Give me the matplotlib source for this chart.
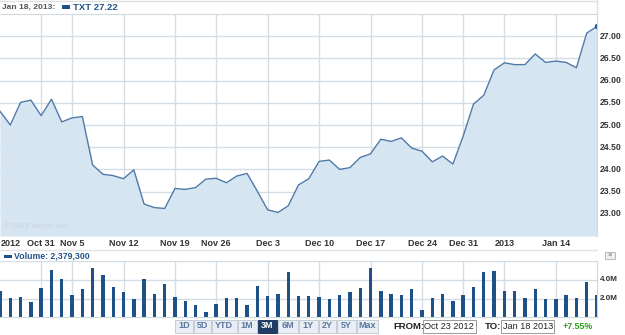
import matplotlib
matplotlib.use("Agg")
import matplotlib.pyplot as plt
from matplotlib.patches import Rectangle
from matplotlib.lines import Line2D

plt.rcParams['font.family'] = ['Liberation Sans', 'DejaVu Sans']

W, H = 625, 335

# trading days Oct 23 2012 -> Jan 18 2013 (market shut Oct 29/30)
days = ["Oct 23", "Oct 24", "Oct 25", "Oct 26", "Oct 31", "Nov 1", "Nov 2",
        "Nov 5", "Nov 6", "Nov 7", "Nov 8", "Nov 9",
        "Nov 12", "Nov 13", "Nov 14", "Nov 15", "Nov 16",
        "Nov 19", "Nov 20", "Nov 21", "Nov 23",
        "Nov 26", "Nov 27", "Nov 28", "Nov 29", "Nov 30",
        "Dec 3", "Dec 4", "Dec 5", "Dec 6", "Dec 7",
        "Dec 10", "Dec 11", "Dec 12", "Dec 13", "Dec 14",
        "Dec 17", "Dec 18", "Dec 19", "Dec 20", "Dec 21",
        "Dec 24", "Dec 26", "Dec 27", "Dec 28", "Dec 31",
        "Jan 2", "Jan 3", "Jan 4",
        "Jan 7", "Jan 8", "Jan 9", "Jan 10", "Jan 11",
        "Jan 14", "Jan 15", "Jan 16", "Jan 17", "Jan 18"]

close = [25.31, 25.00, 25.51, 25.56, 25.21, 25.58, 25.07, 25.16, 25.19, 24.10,
         23.89, 23.86, 23.79, 23.99, 23.22, 23.14, 23.12, 23.57, 23.55, 23.59,
         23.78, 23.80, 23.70, 23.85, 23.91, 23.51, 23.09, 23.03, 23.18, 23.65,
         23.79, 24.18, 24.21, 24.00, 24.04, 24.27, 24.35, 24.68, 24.63, 24.71,
         24.48, 24.41, 24.17, 24.30, 24.12, 24.75, 25.47, 25.67, 26.24, 26.40,
         26.36, 26.36, 26.60, 26.41, 26.44, 26.41, 26.29, 27.07, 27.22]

# volume in millions
volume = [2.86, 2.04, 2.18, 1.68, 3.11, 5.07, 4.07, 2.36, 3.04, 5.32,
          4.54, 3.21, 2.71, 1.96, 4.07, 2.54, 3.54, 2.18, 1.75, 1.32,
          0.57, 1.43, 2.04, 2.04, 1.32, 3.36, 2.29, 2.46, 4.89, 2.29,
          2.29, 2.18, 1.93, 2.36, 2.68, 3.11, 5.25, 2.86, 2.50, 2.36,
          3.04, 0.75, 2.04, 2.46, 1.75, 2.36, 3.29, 4.89, 5.00, 2.86,
          2.79, 2.11, 3.00, 2.00, 2.00, 2.43, 2.11, 3.80, 2.38]

tick_days = ["Oct 31", "Nov 5", "Nov 12", "Nov 19", "Nov 26", "Dec 3",
             "Dec 10", "Dec 17", "Dec 24", "Dec 31", "Jan 7", "Jan 14"]
tick_labels = ["Oct 31", "Nov 5", "Nov 12", "Nov 19", "Nov 26", "Dec 3",
               "Dec 10", "Dec 17", "Dec 24", "Dec 31", "2013", "Jan 14"]
price_ticks = [23.0, 23.5, 24.0, 24.5, 25.0, 25.5, 26.0, 26.5, 27.0]
vol_ticks = [2.0, 4.0]

line_c = "#4f7aa8"
fill_c = "#d5e5f1"
bar_c = "#1d5188"
grid_c = "#d3dde6"
text_c = "#333333"

x = list(range(len(days)))
tick_pos = [days.index(d) for d in tick_days]


def fx(px):
    return px / W


def fy(py):
    return 1 - py / H


fig = plt.figure(figsize=(W / 100, H / 100), dpi=100)

# price panel
ax = fig.add_axes([0, fy(236), fx(597), (236 - 14) / H])
ax.fill_between(x, close, 22.5, color=fill_c, lw=0)
ax.plot(x, close, color=line_c, lw=1.0)
ax.plot(x[-1], close[-1], "o", color="#2a5a90", ms=3)
ax.set_xlim(0, len(days) - 1)
ax.set_ylim(22.5, 27.5)
for p in tick_pos:
    ax.axvline(p, color=grid_c, lw=1.0, zorder=0)
for t in price_ticks:
    ax.axhline(t, color=grid_c, lw=1.0, zorder=0)
ax.set_xticks([])
ax.set_yticks([])
for s in ["left", "bottom"]:
    ax.spines[s].set_visible(False)
ax.spines["top"].set_color("#d0d8e0")
ax.spines["right"].set_color("#d0d8e0")
for t in price_ticks:
    ax.text(1.005, (t - 22.5) / 5.0, "%.2f" % t, transform=ax.transAxes,
            ha="left", va="center", fontsize=6.2, fontweight="bold", color=text_c)
ax.text(0.006, 0.035, "\u00a9 2013 Yahoo! Inc.", transform=ax.transAxes,
        fontsize=5.5, color="#c8d4de")

# x labels
fig.text(fx(0.5), fy(243), "2012", ha="left", va="center", fontsize=6.5,
         fontweight="bold", color=text_c)
for p, lab in zip(tick_pos, tick_labels):
    xp = p / (len(days) - 1) * 597
    fig.text(fx(xp), fy(243), lab, ha="center", va="center", fontsize=6.5,
             fontweight="bold", color=text_c)

# header
fig.add_artist(Line2D([0, fx(597)], [fy(1), fy(1)], color="#e0e0e0", lw=1))
fig.add_artist(Line2D([fx(597), fx(597)], [fy(0), fy(14)], color="#e0e0e0", lw=1))
fig.text(fx(2), fy(7.5), "Jan 18, 2013:", ha="left", va="center", fontsize=6.1,
         fontweight="bold", color="#555555")
fig.add_artist(Rectangle((fx(62), fy(8.5)), fx(8), 3.5 / H, transform=fig.transFigure,
                         color=bar_c, lw=0))
fig.text(fx(73), fy(7.5), "TXT 27.22", ha="left", va="center", fontsize=6.8,
         fontweight="bold", color="#24548a")

# separator
fig.add_artist(Line2D([0, fx(597)], [fy(249.5), fy(249.5)], color="#e3e3e3", lw=1))

# volume panel
vax = fig.add_axes([0, fy(317.3), fx(597), 56 / H])
vax.bar(x, volume, width=0.33, color=bar_c, zorder=2)
vax.set_xlim(0, len(days) - 1)
vax.set_ylim(0, 6.0)
for p in tick_pos:
    vax.axvline(p, color=grid_c, lw=1.0, zorder=0)
for t in vol_ticks + [6.0]:
    vax.axhline(t, color=grid_c, lw=1.0, zorder=0)
vax.set_xticks([])
vax.set_yticks([])
for s in ["left", "top"]:
    vax.spines[s].set_visible(False)
vax.spines["right"].set_color("#d0d8e0")
vax.spines["bottom"].set_color("#d0d8e0")
for t in vol_ticks:
    vax.text(1.005, t / 6.0, "%.1fM" % t, transform=vax.transAxes, ha="left",
             va="center", fontsize=5.8, fontweight="bold", color=text_c)

fig.add_artist(Rectangle((fx(4), fy(258)), fx(7.5), 3.5 / H, transform=fig.transFigure,
                         color=bar_c, lw=0))
fig.text(fx(14), fy(256), "Volume: 2,379,300", ha="left", va="center",
         fontsize=6.3, fontweight="bold", color="#24548a")

# close button
fig.add_artist(Rectangle((fx(605), fy(259)), fx(10), 7 / H, transform=fig.transFigure,
                         facecolor="#eeeeee", edgecolor="#b0b0b0", lw=0.6))
fig.text(fx(610), fy(255.5), "\u00d7", ha="center", va="center", fontsize=5.5,
         color="#666666")

# range buttons
buttons = ["1D", "5D", "YTD", "1M", "3M", "6M", "1Y", "2Y", "5Y", "Max"]
bx = [175, 193.5, 212, 237.5, 257.5, 278, 298.5, 318.5, 337, 356.5]
bw = [17.5, 17.5, 24.5, 19, 19.5, 19.5, 19, 17.5, 18.5, 21.5]
for lab, x0, w in zip(buttons, bx, bw):
    sel = lab == "3M"
    fig.add_artist(Rectangle((fx(x0), fy(332.5)), fx(w), 13 / H,
                             transform=fig.transFigure,
                             facecolor="#1f3d64" if sel else "#e9eef4",
                             edgecolor="#1f3d64" if sel else "#c4ccd6", lw=0.7))
    fig.text(fx(x0 + w / 2), fy(326), lab, ha="center", va="center", fontsize=6.5,
             fontweight="bold", color="white" if sel else "#5a78a0")

fig.text(fx(393), fy(326.5), "FROM:", ha="left", va="center", fontsize=6.8,
         fontweight="bold", color="#222222")
fig.add_artist(Rectangle((fx(422.5), fy(333)), fx(53), 13 / H, transform=fig.transFigure,
                         facecolor="white", edgecolor="#9a9a9a", lw=0.7))
fig.text(fx(424.5), fy(326.5), "Oct 23 2012", ha="left", va="center", fontsize=6.6,
         color="#222222")
fig.text(fx(485), fy(326.5), "TO:", ha="left", va="center", fontsize=6.8,
         fontweight="bold", color="#222222")
fig.add_artist(Rectangle((fx(501), fy(333)), fx(53), 13 / H, transform=fig.transFigure,
                         facecolor="white", edgecolor="#9a9a9a", lw=0.7))
fig.text(fx(503), fy(326.5), "Jan 18 2013", ha="left", va="center", fontsize=6.6,
         color="#222222")
fig.text(fx(563), fy(326.5), "+7.55%", ha="left", va="center", fontsize=6.4,
         fontweight="bold", color="#2e9a1e")

fig.savefig("out.png", dpi=100)
